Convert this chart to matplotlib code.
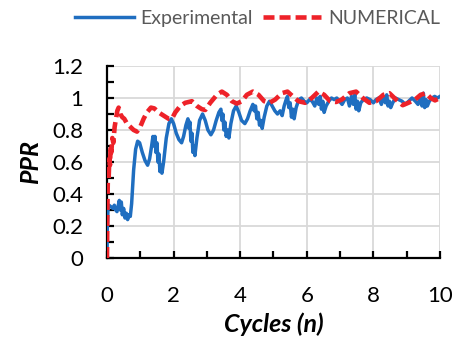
import matplotlib
matplotlib.use("Agg")
import matplotlib.pyplot as plt
from matplotlib.ticker import MultipleLocator

exp_x = [0, 0.01, 0.03, 0.06, 0.12, 0.18, 0.22, 0.26, 0.30, 0.34, 0.37, 0.40, 0.43, 0.46, 0.50, 0.54,
         0.58, 0.62, 0.66, 0.70, 0.74, 0.80, 0.86, 0.92, 0.98, 1.06, 1.14, 1.22, 1.28, 1.34, 1.38, 1.41,
         1.44, 1.47, 1.50, 1.53, 1.56, 1.59, 1.62, 1.65, 1.70, 1.78, 1.86, 1.93, 2.00, 2.08, 2.16, 2.24,
         2.30, 2.37, 2.43, 2.46, 2.49, 2.52, 2.55, 2.58, 2.61, 2.64, 2.70, 2.78, 2.87, 2.95, 3.03, 3.12,
         3.20, 3.28, 3.36, 3.42, 3.45, 3.48, 3.51, 3.54, 3.58, 3.62, 3.66, 3.72, 3.80, 3.88, 3.96, 4.04,
         4.14, 4.22, 4.30, 4.38, 4.42, 4.46, 4.50, 4.54, 4.58, 4.62, 4.66, 4.72, 4.80, 4.88, 4.96, 5.04,
         5.12, 5.20, 5.26, 5.32, 5.38, 5.42, 5.46, 5.50, 5.54, 5.58, 5.62, 5.68, 5.76, 5.84, 5.92, 6.00,
         6.08, 6.16, 6.24, 6.30, 6.36, 6.40, 6.44, 6.48, 6.52, 6.58, 6.66, 6.74, 6.82, 6.90, 6.98, 7.06,
         7.14, 7.22, 7.28, 7.34, 7.40, 7.44, 7.48, 7.52, 7.56, 7.62, 7.70, 7.80, 7.90, 8.00, 8.08, 8.16,
         8.24, 8.30, 8.36, 8.40, 8.44, 8.48, 8.52, 8.58, 8.66, 8.76, 8.86, 8.96, 9.06, 9.16, 9.26, 9.34,
         9.40, 9.46, 9.50, 9.54, 9.58, 9.62, 9.68, 9.76, 9.84, 9.92, 10.0]
exp_y = [0, 0.20, 0.30, 0.33, 0.32, 0.31, 0.33, 0.30, 0.29, 0.33, 0.36, 0.30, 0.35, 0.27, 0.31, 0.25,
         0.28, 0.24, 0.27, 0.26, 0.34, 0.55, 0.68, 0.73, 0.72, 0.66, 0.61, 0.58, 0.62, 0.70, 0.76, 0.70,
         0.76, 0.66, 0.72, 0.60, 0.65, 0.54, 0.58, 0.53, 0.60, 0.75, 0.84, 0.87, 0.84, 0.78, 0.74, 0.72,
         0.76, 0.83, 0.87, 0.81, 0.85, 0.73, 0.78, 0.66, 0.70, 0.64, 0.75, 0.86, 0.90, 0.86, 0.80, 0.77,
         0.80, 0.86, 0.91, 0.93, 0.86, 0.90, 0.80, 0.85, 0.76, 0.80, 0.75, 0.84, 0.92, 0.95, 0.91, 0.86,
         0.84, 0.87, 0.92, 0.96, 0.92, 0.95, 0.87, 0.91, 0.83, 0.86, 0.81, 0.88, 0.95, 0.98, 0.95, 0.92,
         0.90, 0.92, 0.89, 0.95, 0.99, 1.01, 0.94, 0.97, 0.88, 0.93, 0.87, 0.94, 0.99, 1.00, 0.98, 0.97,
         0.99, 0.98, 0.95, 1.00, 0.96, 1.01, 0.93, 0.98, 0.91, 0.95, 0.98, 1.00, 0.99, 1.00, 0.98, 0.96,
         0.99, 1.00, 0.95, 1.01, 0.96, 1.02, 0.93, 0.98, 0.92, 0.97, 0.99, 1.00, 0.99, 0.97, 0.99, 1.00,
         0.96, 1.01, 0.97, 1.02, 0.95, 0.98, 0.94, 0.97, 1.00, 0.99, 0.98, 0.96, 0.98, 1.00, 0.98, 0.96,
         1.00, 0.95, 1.03, 0.94, 0.99, 0.95, 0.98, 1.00, 1.01, 1.00, 1.01]

num_x = [0, 0.01, 0.02, 0.03, 0.05, 0.07, 0.09, 0.11, 0.13, 0.16, 0.19, 0.23, 0.27, 0.31, 0.35, 0.40,
         0.46, 0.52, 0.60, 0.70, 0.80, 0.90, 1.00, 1.10, 1.20, 1.32, 1.42, 1.55, 1.70, 1.85, 1.95, 2.05,
         2.20, 2.35, 2.55, 2.70, 2.85, 2.95, 3.10, 3.30, 3.45, 3.60, 3.75, 3.90, 4.05, 4.20, 4.38, 4.55,
         4.72, 4.88, 5.05, 5.25, 5.42, 5.58, 5.75, 5.95, 6.15, 6.35, 6.52, 6.70, 6.88, 7.05, 7.28, 7.48,
         7.68, 7.88, 8.08, 8.30, 8.48, 8.68, 8.88, 9.05, 9.25, 9.42, 9.58, 9.72, 9.85, 10.0]
num_y = [0, 0.25, 0.42, 0.55, 0.50, 0.62, 0.58, 0.70, 0.66, 0.75, 0.72, 0.82, 0.87, 0.92, 0.94, 0.90,
         0.88, 0.87, 0.84, 0.82, 0.80, 0.79, 0.82, 0.87, 0.91, 0.94, 0.935, 0.91, 0.89, 0.87, 0.87, 0.91,
         0.95, 0.97, 0.98, 0.95, 0.93, 0.925, 0.97, 1.02, 1.04, 1.02, 0.98, 0.965, 0.98, 1.02, 1.04, 1.02,
         0.98, 0.97, 0.99, 1.03, 1.04, 1.01, 0.98, 0.97, 1.00, 1.04, 1.02, 0.98, 0.975, 0.99, 1.03, 1.04,
         1.00, 0.97, 0.98, 1.02, 1.03, 0.99, 0.955, 0.97, 0.99, 1.02, 1.03, 1.00, 0.985, 1.00]

x_ticks = [0, 2, 4, 6, 8, 10]
y_ticks = [0, 0.2, 0.4, 0.6, 0.8, 1.0, 1.2]
x_ticklabels = ["0", "2", "4", "6", "8", "10"]
y_ticklabels = ["0", "0.2", "0.4", "0.6", "0.8", "1", "1.2"]

plt.rcParams['font.family'] = ['Lato', 'DejaVu Sans']

fig = plt.figure(figsize=(4.58, 3.49), dpi=100)
ax = fig.add_axes([0.2336, 0.2607, 0.7271, 0.5502])

ax.plot(exp_x, exp_y, color='#1F6EC0', lw=2.5, label='Experimental', zorder=3)
ax.plot(num_x, num_y, color='#EE2229', lw=3.3, dashes=(2.4, 1.1), label='NUMERICAL', zorder=4)

ax.set_xlim(0, 10)
ax.set_ylim(0, 1.2)
ax.set_xticks(x_ticks)
ax.set_xticklabels(x_ticklabels)
ax.set_yticks(y_ticks)
ax.set_yticklabels(y_ticklabels)
ax.xaxis.set_minor_locator(MultipleLocator(1))
ax.yaxis.set_minor_locator(MultipleLocator(0.1))
ax.grid(True, which='major', color='#D9D9D9', lw=1.3, zorder=0)
ax.set_axisbelow(True)

for s in ['top', 'right']:
    ax.spines[s].set_visible(False)
for s in ['left', 'bottom']:
    ax.spines[s].set_color('black')
    ax.spines[s].set_linewidth(1.6)

ax.tick_params(axis='both', which='both', direction='in', color='black', width=1.6,
               labelsize=16, labelcolor='#000000')
ax.tick_params(axis='both', which='major', length=5)
ax.tick_params(axis='both', which='minor', length=5)
ax.tick_params(axis='y', which='major', pad=17)
ax.tick_params(axis='x', which='major', pad=20)

ax.set_xlabel('Cycles (n)', fontsize=18, fontweight='bold', fontstyle='italic', labelpad=5)
ax.set_ylabel('PPR', fontsize=18, fontweight='bold', fontstyle='italic', labelpad=7)

leg = fig.legend(loc='center', bbox_to_anchor=(0.563, 0.948), ncol=2, frameon=False,
                 fontsize=14, handlelength=3.0, columnspacing=0.5, handletextpad=0.36)
for t in leg.get_texts():
    t.set_color('#595959')

fig.savefig('out.png', dpi=100)
